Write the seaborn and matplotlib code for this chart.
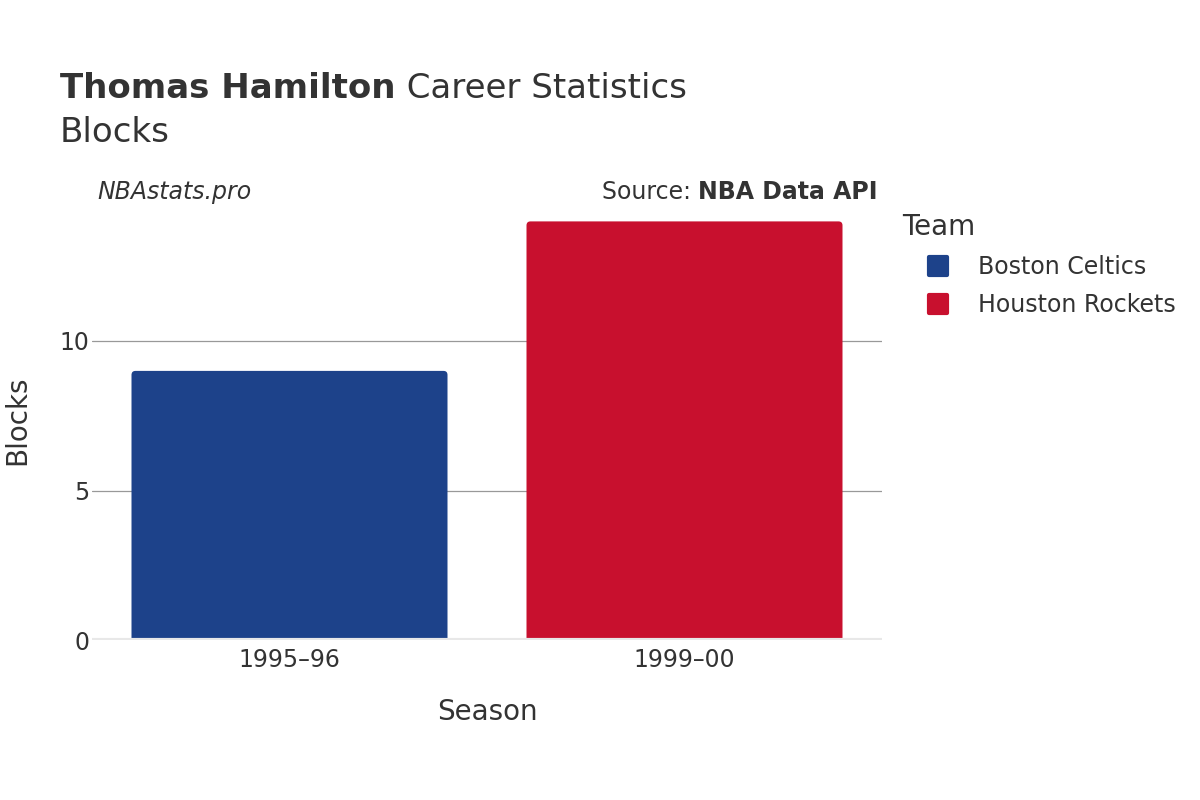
import matplotlib
matplotlib.use("Agg")
import matplotlib.pyplot as plt
import seaborn as sns
import pandas as pd
from matplotlib.lines import Line2D
from matplotlib.markers import MarkerStyle
from matplotlib.patches import FancyBboxPatch

# ================= data =================
seasons = ["1995\u201396", "1999\u201300"]
teams = ["Boston Celtics", "Houston Rockets"]
blocks = [9, 14]
team_colors = {"Boston Celtics": "#1d428a", "Houston Rockets": "#c8102e"}
# ========================================

df = pd.DataFrame({"Season": seasons, "Team": teams, "Blocks": blocks})

sns.set_theme(style="white")
plt.rcParams["font.family"] = ["DejaVu Sans"]

TXT = "#333333"
fig = plt.figure(figsize=(12, 8), dpi=100)
ax = fig.add_axes([92 / 1200, 1 - 640 / 800, 790 / 1200, 440 / 800])

sns.barplot(data=df, x="Season", y="Blocks", hue="Team", palette=team_colors,
            dodge=False, width=0.8, ax=ax, legend=False, saturation=1)

ax.set_xlim(-0.5, 1.5)
ax.set_ylim(0, 440 / 29.9)

# round the top corners of the bars (plotly style)
px_x = 790 / 2.0      # pixels per x unit
px_y = 29.9           # pixels per y unit
rad = 4 / px_x
aspect = px_x / px_y
for p in list(ax.patches):
    x0, y0, w, h = p.get_x(), p.get_y(), p.get_width(), p.get_height()
    if h <= 0:
        continue
    ext = 5 / px_y
    fb = FancyBboxPatch((x0, y0 - ext), w, h + ext,
                        boxstyle=f"round,pad=0,rounding_size={rad}",
                        mutation_aspect=aspect, facecolor=p.get_facecolor(),
                        edgecolor="none", zorder=p.get_zorder())
    p.remove()
    ax.add_patch(fb)

ax.set_yticks([0, 5, 10])
ax.yaxis.grid(True, color="#999999", linewidth=0.9)
ax.set_axisbelow(True)
for s in ax.spines.values():
    s.set_visible(False)
ax.axhline(0, color="#e8e8e8", linewidth=3, zorder=3)
ax.tick_params(axis="x", length=0, labelsize=17, labelcolor=TXT, pad=6)
ax.tick_params(axis="y", length=0, labelsize=17, labelcolor=TXT, pad=2)

ax.set_xlabel("Season", fontsize=20, color=TXT)
ax.set_ylabel("Blocks", fontsize=20, color=TXT)
ax.xaxis.set_label_coords(0.5, (640 - 712) / 440)
ax.xaxis.label.set_va("center")
ax.yaxis.set_label_coords((17 - 92) / 790, 0.5)
ax.yaxis.label.set_va("center")

# titles
fig.canvas.draw()
r = fig.canvas.get_renderer()
t1 = fig.text(60 / 1200, 1 - 89 / 800, "Thomas Hamilton", fontsize=24.5, fontweight="bold",
              color=TXT, va="center", ha="left")
bb = t1.get_window_extent(renderer=r)
fig.text(bb.x1 / 1200, 1 - 89 / 800, " Career Statistics", fontsize=24.5,
         color=TXT, va="center", ha="left")
fig.text(60 / 1200, 1 - 132 / 800, "Blocks", fontsize=24.5, color=TXT, va="center")

fig.text(97 / 1200, 1 - 192 / 800, "NBAstats.pro", fontsize=17, style="italic",
         color=TXT, va="center")
t2 = fig.text(878 / 1200, 1 - 192 / 800, "NBA Data API", fontsize=17, fontweight="bold",
              color=TXT, va="center", ha="right")
bb2 = t2.get_window_extent(renderer=r)
fig.text(bb2.x0 / 1200, 1 - 192 / 800, "Source: ", fontsize=17, color=TXT,
         va="center", ha="right")

# legend
fig.text(902 / 1200, 1 - 227 / 800, "Team", fontsize=20, color=TXT, va="center")
handles = [Line2D([0], [0], marker=MarkerStyle("s", joinstyle="round"), linestyle="",
                  markersize=13, markeredgewidth=3,
                  markerfacecolor=team_colors[t], markeredgecolor=team_colors[t]) for t in teams]
leg = fig.legend(handles, teams, loc="upper left",
                 bbox_to_anchor=(893 / 1200, 1 - 234 / 800), frameon=False,
                 fontsize=17, labelspacing=0.6, handletextpad=0.7)
for txt in leg.get_texts():
    txt.set_color(TXT)

fig.savefig("out.png", dpi=100)
